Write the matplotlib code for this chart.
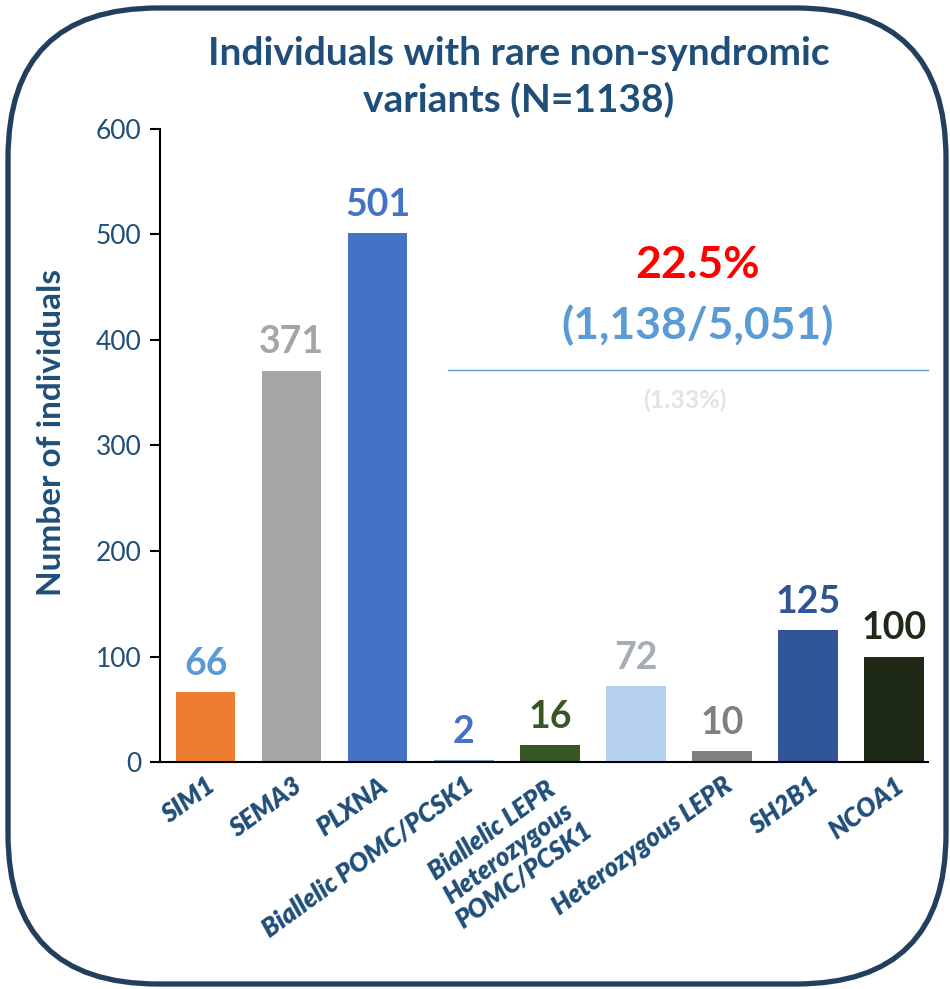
import matplotlib.pyplot as plt
from matplotlib.patches import FancyBboxPatch

plt.rcParams['font.family'] = ['Lato', 'DejaVu Sans']

# gene groups and counts of carriers
labels = ['SIM1', 'SEMA3', 'PLXNA', 'Biallelic POMC/PCSK1',
          'Biallelic LEPR\nHeterozygous\nPOMC/PCSK1', '', 'Heterozygous LEPR',
          'SH2B1', 'NCOA1']
counts = [66, 371, 501, 2, 16, 72, 10, 125, 100]
bar_colors = ['#ED7D31', '#A5A5A5', '#4472C4', '#7F9FD8', '#375623',
              '#B4D0EC', '#7F7F7F', '#2F5597', '#1E2A16']
value_colors = ['#5B9BD5', '#A5A5A5', '#4472C4', '#4472C4', '#375623',
                '#A5ADB8', '#7F7F7F', '#2F5597', '#1E2A16']

navy = '#1F4E79'

fig = plt.figure(figsize=(9.5, 9.89), dpi=100)
ax = fig.add_axes([0.168, 0.2295, 0.809, 0.6401])

x = range(len(counts))
bars = ax.bar(x, counts, width=0.69, color=bar_colors)
for i, (b, v) in enumerate(zip(bars, counts)):
    ax.annotate(str(v), (b.get_x() + b.get_width() / 2, v),
                xytext=(0, 8), textcoords='offset points',
                ha='center', va='bottom', fontsize=27, fontweight='bold',
                color=value_colors[i])

ax.set_xlim(-0.535, 8.395)
ax.set_ylim(0, 600)
ax.set_yticks(range(0, 601, 100))
ax.tick_params(axis='y', direction='out', length=7, width=1.5,
               labelsize=19, labelcolor=navy, pad=6)
ax.tick_params(axis='x', length=0, pad=8)
ax.set_xticks(list(x))
ax.set_xticklabels(labels, rotation=36, ha='right', rotation_mode='anchor',
                   fontsize=18.5, fontweight='heavy', fontstyle='italic',
                   color=navy, multialignment='center')
ax.set_ylabel('Number of individuals', fontsize=24, fontweight='bold',
              color=navy)
ax.yaxis.set_label_coords(-0.122, 0.52)
for s in ['top', 'right']:
    ax.spines[s].set_visible(False)
for s in ['left', 'bottom']:
    ax.spines[s].set_linewidth(1.5)

# overall yield annotation
ax.text(0.70, 0.785, '22.5%', transform=ax.transAxes, ha='center',
        va='center', fontsize=32, fontweight='bold', color='#FF0000')
ax.text(0.70, 0.69, '(1,138/5,051)', transform=ax.transAxes, ha='center',
        va='center', fontsize=32, fontweight='bold', color='#5B9BD5')
ax.plot([0.375, 1.0], [0.62, 0.62], transform=ax.transAxes,
        color='#5B9BD5', lw=1, clip_on=False)
ax.text(0.683, 0.571, '(1.33%)', transform=ax.transAxes, ha='center',
        va='center', fontsize=18, fontweight='bold', color='#E3E3E3')

fig.text(0.546, 0.922, 'Individuals with rare non-syndromic\nvariants (N=1138)',
         ha='center', va='center', fontsize=28, fontweight='bold',
         color=navy, linespacing=1.35)

frame = FancyBboxPatch((0.08, 0.05), 9.38, 9.76,
                       boxstyle='round,pad=0,rounding_size=1.5',
                       transform=fig.dpi_scale_trans, fill=False,
                       edgecolor='#22405E', lw=3.8)
fig.patches.append(frame)

fig.savefig('out.png', dpi=100)
